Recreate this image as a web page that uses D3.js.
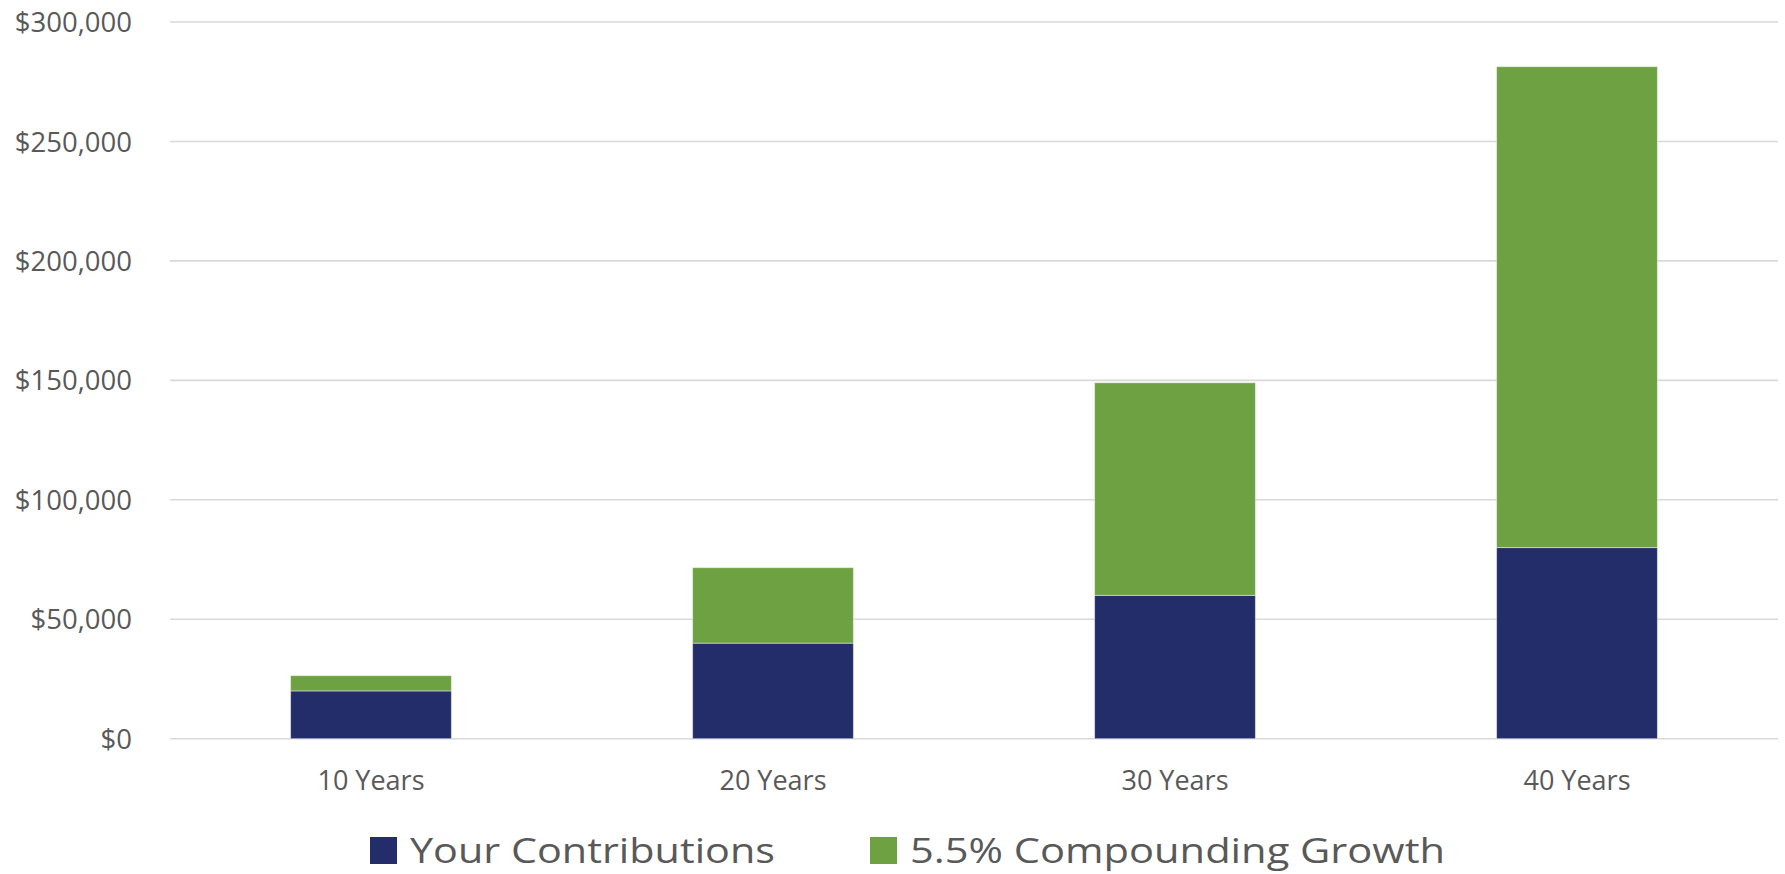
<!DOCTYPE html>
<html>
<head>
<meta charset="utf-8">
<script src="https://cdn.jsdelivr.net/npm/d3@7"></script>
<style>
  html, body { margin: 0; padding: 0; background: #fff; }
  svg { display: block; font-family: "Open Sans", sans-serif; }
</style>
</head>
<body>
<svg id="chart" width="1785" height="874"></svg>
<script>
const categories = ["10 Years", "20 Years", "30 Years", "40 Years"];
const contributions = [20000, 40000, 60000, 80000];
const growth = [6400, 31600, 89000, 201300];
const seriesNames = ["Your Contributions", "5.5% Compounding Growth"];
const seriesColors = ["#232d69", "#6ea142"];
const yTicks = [0, 50000, 100000, 150000, 200000, 250000, 300000];

const W = 1785, H = 874;
const margin = { left: 170, right: 7, top: 22, bottom: 874 - 738.7 };
const svg = d3.select("#chart");

const x = d3.scaleBand().domain(categories)
  .range([margin.left, W - margin.right]).paddingInner(0.6).paddingOuter(0.3);
const y = d3.scaleLinear().domain([0, 300000]).range([H - margin.bottom, margin.top]);

const rows = categories.map((c, i) => ({ cat: c, contributions: contributions[i], growth: growth[i] }));
const stack = d3.stack().keys(["contributions", "growth"])(rows);

// gridlines
svg.append("g")
  .selectAll("line").data(yTicks).join("line")
  .attr("x1", margin.left).attr("x2", W - margin.right)
  .attr("y1", d => y(d)).attr("y2", d => y(d))
  .attr("stroke", "#d9d9d9").attr("stroke-width", 1.6);

// y axis labels
const yAxis = svg.append("g").attr("transform", `translate(${margin.left - 38},0)`)
  .call(d3.axisLeft(y).tickValues(yTicks).tickSize(0).tickPadding(0)
    .tickFormat(d => "$" + d3.format(",")(d)));
yAxis.select(".domain").remove();
yAxis.selectAll("text").attr("font-size", 27.5).attr("fill", "#595959")
  .attr("font-family", "'Open Sans', sans-serif").attr("dy", "0.35em");

// bars
svg.append("g").selectAll("g").data(stack).join("g")
  .attr("fill", (d, i) => seriesColors[i])
  .selectAll("rect").data(d => d).join("rect")
  .attr("x", d => x(d.data.cat))
  .attr("width", x.bandwidth())
  .attr("y", d => y(d[1]))
  .attr("height", d => y(d[0]) - y(d[1]))
  .attr("stroke", "#ffffff").attr("stroke-opacity", 0.45).attr("stroke-width", 1);

// x axis labels
const xAxis = svg.append("g").attr("transform", `translate(0,${y(0)})`)
  .call(d3.axisBottom(x).tickSize(0).tickPadding(0));
xAxis.select(".domain").remove();
xAxis.selectAll("text").attr("font-size", 27).attr("fill", "#595959")
  .attr("font-family", "'Open Sans', sans-serif")
  .attr("dy", null).attr("y", 51);

// legend
const legendItems = [
  { name: seriesNames[0], color: seriesColors[0], sx: 370, tx: 410, len: 365 },
  { name: seriesNames[1], color: seriesColors[1], sx: 870, tx: 910, len: 535 }
];
const lg = svg.append("g");
legendItems.forEach(it => {
  lg.append("rect").attr("x", it.sx).attr("y", 837).attr("width", 27).attr("height", 27)
    .attr("fill", it.color);
  lg.append("text").attr("x", it.tx).attr("y", 863)
    .attr("font-size", 35).attr("fill", "#595959")
    .attr("textLength", it.len).attr("lengthAdjust", "spacingAndGlyphs")
    .text(it.name);
});
</script>
</body>
</html>
